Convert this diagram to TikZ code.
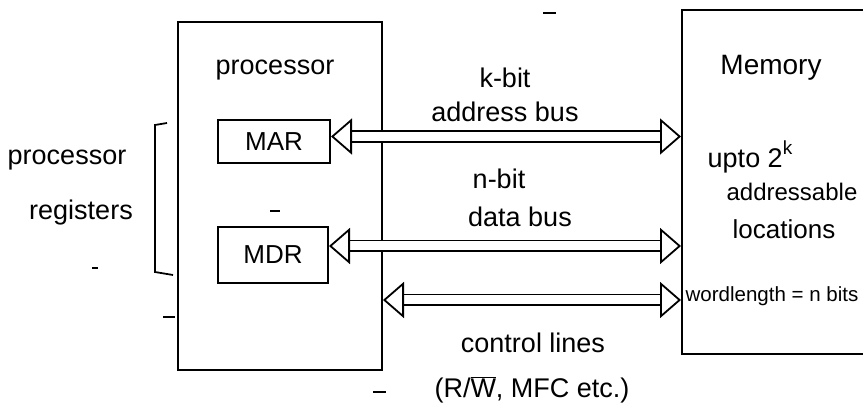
\documentclass[tikz,border=0pt]{standalone}
\usepackage{fontspec}
\setmainfont{Liberation Sans}
\usetikzlibrary{arrows.meta}
\begin{document}
\begin{tikzpicture}[x=1pt,y=-1pt,line width=1.8pt,
  lbl/.style={inner sep=0pt,font=\fontsize{27}{32}\selectfont},
  box/.style={draw,inner sep=0pt,line width=2pt},
  hd/.tip={Triangle[length=21pt,width=36pt,fill=white,line width=1.8pt]},
  bus/.style={double,double distance=9pt,line width=1.8pt,{hd}-{hd}},
  stray/.style={line width=1.2pt}]
\useasboundingbox (0,0) rectangle (863,414);
% boxes
\node[box,minimum width=204pt,minimum height=348pt] (proc) at (280,196) {};
\node[box,minimum width=184pt,minimum height=344pt] (mem) at (774,182) {};
\node[box,minimum width=112pt,minimum height=43pt,font=\fontsize{26}{30}\selectfont] (mar) at (274,141.5) {MAR};
\node[box,minimum width=110pt,minimum height=56pt,font=\fontsize{26}{30}\selectfont] (mdr) at (273,255) {MDR};
% labels
\node[lbl] (ptitle) at (275,70) {processor};
\node[lbl,font=\fontsize{28}{32}\selectfont] (mtitle) at (771,68) {Memory};
\node[lbl] (kbit) at (505,78) {k-bit};
\node[lbl] (abus) at (505,112) {address bus};
\node[lbl] (nbit) at (499,179) {n-bit};
\node[lbl] (dbus) at (520,217) {data bus};
\node[lbl] (ctl) at (533,343) {control lines};
\node[lbl] (ctl2) at (532,390) {(R/$\overline{\mbox{W}}$, MFC etc.)};
\node[lbl] (upto) at (750,157) {upto 2\raisebox{0.5em}{\fontsize{19}{20}\selectfont k}};
\node[lbl,font=\fontsize{24}{28}\selectfont] (addr) at (792,192) {addressable};
\node[lbl,font=\fontsize{26}{28}\selectfont] (loc) at (784,229) {locations};
\node[lbl,font=\fontsize{20.5}{24}\selectfont] (wl) at (772,296) {wordlength = n bits};
\node[lbl] (preg1) at (67,160) {processor};
\node[lbl] (preg2) at (81,213) {registers};
% bracket
\draw (167,123) -- (155,125) -- (155,272) -- (173,275);
% buses
\coordinate (cl) at (0,300);
\draw[bus] ([yshift=5pt]mar.east) -- ([yshift=5pt]mar.east -| mem.west);
\draw[bus] ([yshift=9pt]mdr.east) -- ([yshift=9pt]mdr.east -| mem.west);
\draw[bus] (proc.east |- cl) -- (mem.west |- cl);
% stray marks
\draw[stray] (543,13) -- (556,13);
\draw[stray] (270,211) -- (280,211);
\draw[stray] (163,317) -- (175,317);
\draw[stray] (373,392) -- (386,392);
\draw[stray] (92,268) -- (98,268);
\end{tikzpicture}
\end{document}
